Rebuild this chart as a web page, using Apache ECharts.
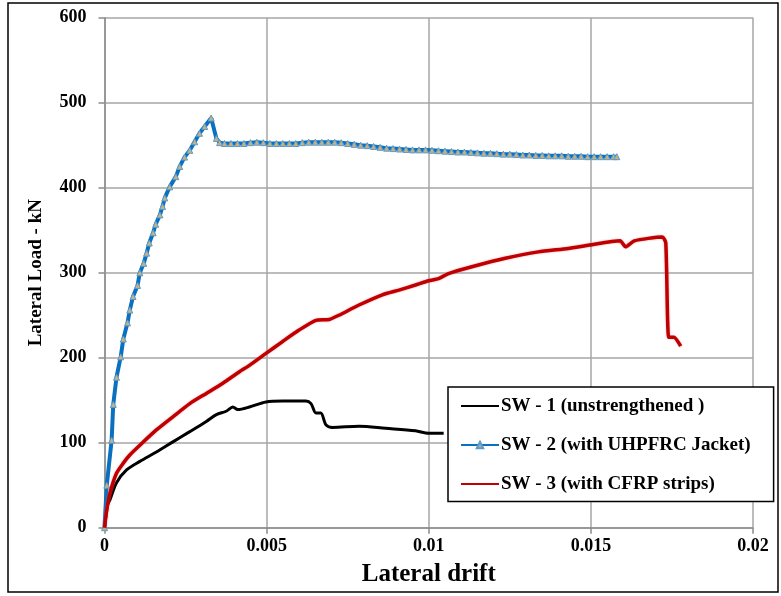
<!DOCTYPE html>
<html>
<head>
<meta charset="utf-8">
<script src="https://cdn.jsdelivr.net/npm/echarts@6/dist/echarts.min.js"></script>
<style>html,body{margin:0;padding:0;background:#fff;}#c{width:781px;height:596px;}</style>
</head>
<body>
<div id="c"></div>
<script>
const seriesNames = ['SW - 1 (unstrengthened )', 'SW - 2 (with UHPFRC Jacket)', 'SW - 3 (with CFRP strips)'];
const xTicks = [0, 0.005, 0.01, 0.015, 0.02];
const yTicks = [0, 100, 200, 300, 400, 500, 600];

const sw1Drift = [0, 0.00005, 0.0001, 0.00017, 0.00037, 0.00068, 0.00109, 0.0016, 0.00211, 0.00263, 0.00314, 0.00345, 0.00375, 0.00396, 0.00411, 0.00447, 0.00498, 0.0055, 0.00621, 0.00637, 0.00652, 0.00667, 0.00683, 0.00703, 0.00785, 0.00867, 0.00959, 0.01, 0.01046];
const sw1Load  = [0, 15, 27, 33, 53, 68, 78, 89, 101, 113, 125, 133, 137, 142, 139, 142, 148, 149, 149, 146, 135, 135, 121, 118, 119.5, 117, 114, 111, 111];

const sw2Drift = [0, 0.00007, 0.00022, 0.00027, 0.00037, 0.0005, 0.00058, 0.00071, 0.00078, 0.00088, 0.00102, 0.00109, 0.00121, 0.0013, 0.00138, 0.0015, 0.00158, 0.00171, 0.00179, 0.00186, 0.00201, 0.0022, 0.00232, 0.00247, 0.00263, 0.00278, 0.00293, 0.00309, 0.00329, 0.00345, 0.00355,
  0.0037, 0.0039, 0.0041, 0.0043, 0.0045, 0.0047, 0.0049, 0.0051, 0.0053, 0.0055, 0.0057, 0.0059, 0.0061, 0.0063, 0.0065, 0.0067, 0.0069, 0.0071, 0.0073, 0.0075, 0.0077, 0.0079, 0.0081, 0.0083, 0.0085, 0.0087, 0.0089, 0.0091, 0.0093, 0.0095, 0.0097, 0.0099, 0.0101, 0.0103, 0.0105, 0.0107, 0.0109, 0.0111, 0.0113, 0.0115, 0.0117, 0.0119, 0.0121, 0.0123, 0.0125, 0.0127, 0.0129, 0.0131, 0.0133, 0.0135, 0.0137, 0.0139, 0.0141, 0.0143, 0.0145, 0.0147, 0.0149, 0.0151, 0.0153, 0.0155, 0.0157, 0.0158];
const sw2Load  = [0, 50, 103, 145, 177, 201, 222, 241, 256, 272, 285, 300, 311, 323, 335, 347, 357, 368, 378, 388, 401, 413, 425, 436, 444, 454, 464, 472, 482, 458, 453,
  452, 452, 452, 452, 453, 453.5, 453, 452, 452, 452, 452, 452, 453, 453.5, 453.5, 453.5, 453.5, 453.5, 453, 452, 451, 450, 449.5, 448.5, 447.5, 446.5, 446, 445.5, 445, 444.5, 444.5, 444.5, 444, 443.5, 443, 442.5, 442, 442, 441.5, 441, 440.5, 440.5, 440, 439.5, 439.5, 439, 438.5, 438.5, 438, 438, 437.5, 437.5, 437.5, 437, 437, 437, 436.5, 436.5, 436.5, 436.5, 436.5, 436.5];

const sw3Drift = [0, 0.00007, 0.00017, 0.00037, 0.00058, 0.00078, 0.00109, 0.0016, 0.00211, 0.00263, 0.00314, 0.00365, 0.00416, 0.00447, 0.00498, 0.00549, 0.006, 0.00652, 0.00693, 0.00723, 0.00785, 0.00857, 0.00908, 0.00959, 0.01, 0.0103, 0.01061, 0.01133, 0.01236, 0.01338, 0.0143, 0.01496, 0.0159, 0.01607, 0.01634, 0.0172, 0.01731, 0.0174, 0.01756, 0.01777];
const sw3Load  = [0, 21, 41, 64, 76, 85.5, 97, 115, 130.5, 146, 158, 170, 183.5, 191, 205, 219, 232.5, 244, 245, 250, 262, 274, 279.5, 285.5, 290.5, 293, 299, 307, 317, 324.5, 328.5, 332.5, 337.5, 330.5, 337.5, 342, 335, 224, 224, 213.5];

function zip(a, b) { return a.map((v, i) => [v, b[i]]); }

const serif = '"Liberation Serif", "Times New Roman", serif';
const chart = echarts.init(document.getElementById('c'), null, { renderer: 'canvas' });
chart.setOption({
  backgroundColor: '#ffffff',
  animation: false,
  grid: { left: 104.5, right: 28, top: 17.7, bottom: 68.3, containLabel: false },
  xAxis: {
    type: 'value', min: xTicks[0], max: xTicks[xTicks.length - 1], interval: 0.005,
    name: 'Lateral drift', nameLocation: 'middle', nameGap: 34,
    nameTextStyle: { fontFamily: serif, fontWeight: 'bold', fontSize: 25, color: '#000' },
    axisLine: { show: true, lineStyle: { color: '#8c8c8c', width: 1.5 } },
    axisTick: { show: true, length: 6, lineStyle: { color: '#8c8c8c', width: 1.5 } },
    axisLabel: { fontFamily: serif, fontWeight: 'bold', fontSize: 18, color: '#000', margin: 10,
      formatter: v => String(+v.toFixed(3)) },
    splitLine: { show: true, lineStyle: { color: '#a6a6a6', width: 1.5 } }
  },
  yAxis: {
    type: 'value', min: yTicks[0], max: yTicks[yTicks.length - 1], interval: 100,
    name: 'Lateral Load - kN', nameLocation: 'middle', nameGap: 59, nameRotate: 90,
    nameTextStyle: { fontFamily: serif, fontWeight: 'bold', fontSize: 19, color: '#000' },
    axisLine: { show: true, lineStyle: { color: '#8c8c8c', width: 1.5 } },
    axisTick: { show: true, length: 6, lineStyle: { color: '#8c8c8c', width: 1.5 } },
    axisLabel: { fontFamily: serif, fontWeight: 'bold', fontSize: 18, color: '#000', margin: 18 },
    splitLine: { show: true, lineStyle: { color: '#a6a6a6', width: 1.5 } }
  },
  legend: {
    orient: 'vertical', left: 448, top: 387,
    padding: [9.5, 23, 8, 12], itemGap: 20, itemWidth: 38, itemHeight: 8,
    backgroundColor: '#fff', borderColor: '#000', borderWidth: 1.5, borderRadius: 0,
    textStyle: { fontFamily: serif, fontWeight: 'bold', fontSize: 19, color: '#000', padding: [0, 0, 0, -3] },
    data: [
      { name: seriesNames[0], itemStyle: { opacity: 0 } },
      { name: seriesNames[1] },
      { name: seriesNames[2], itemStyle: { opacity: 0 } }
    ]
  },
  graphic: [{
    type: 'rect', shape: { x: 8, y: 3, width: 770, height: 589 },
    style: { fill: 'none', stroke: '#000', lineWidth: 1.5 }, z: 100, silent: true
  }],
  series: [
    {
      name: seriesNames[0], type: 'line', data: zip(sw1Drift, sw1Load),
      showSymbol: false, symbol: 'none', smooth: 0.3,
      lineStyle: { color: '#000', width: 3 }, itemStyle: { color: '#000' }, z: 3
    },
    {
      name: seriesNames[1], type: 'line', data: zip(sw2Drift, sw2Load),
      symbol: 'triangle', symbolSize: 6, showSymbol: true,
      lineStyle: { color: '#0a70c0', width: 4 },
      itemStyle: { color: '#c8b27c', borderColor: '#5a9ad0', borderWidth: 1 }, z: 4
    },
    {
      name: seriesNames[2], type: 'line', data: zip(sw3Drift, sw3Load),
      showSymbol: false, symbol: 'none', smooth: 0.2,
      lineStyle: { color: '#c00000', width: 3.5, shadowColor: 'rgba(230,100,110,0.6)', shadowBlur: 2 },
      itemStyle: { color: '#c00000' }, z: 5
    }
  ]
});
</script>
</body>
</html>
